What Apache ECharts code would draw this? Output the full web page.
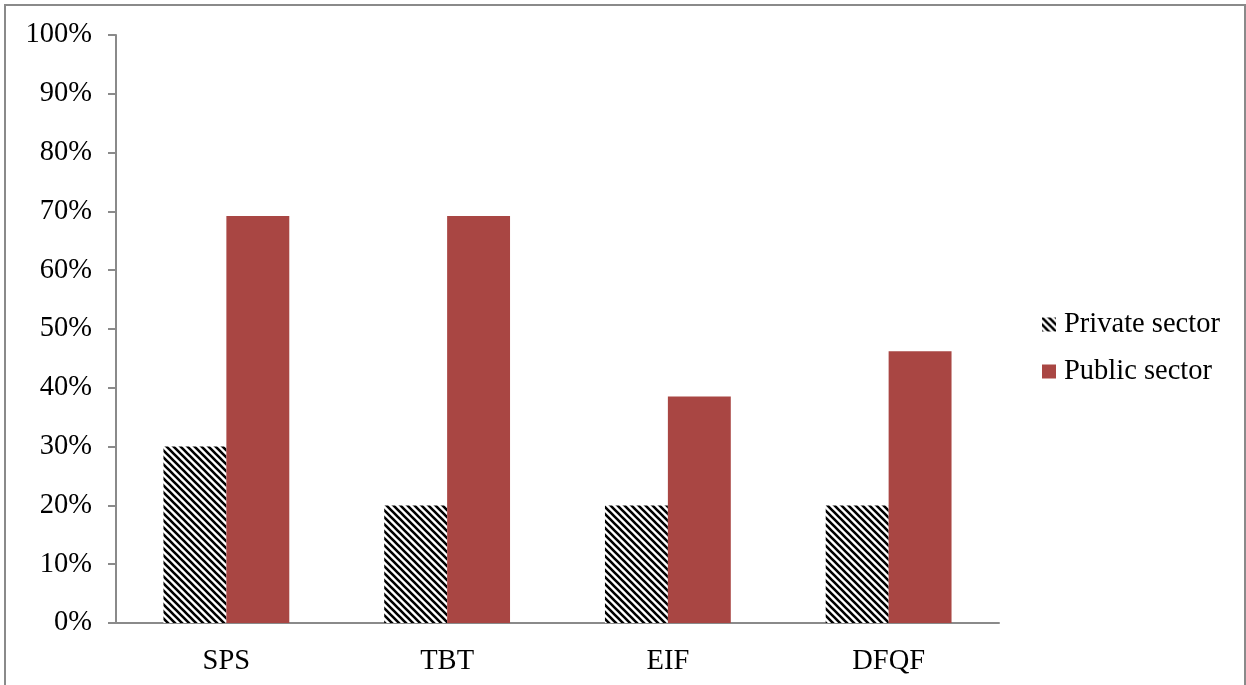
<!DOCTYPE html>
<html>
<head>
<meta charset="utf-8">
<script src="https://cdn.jsdelivr.net/npm/echarts@6/dist/echarts.min.js"></script>
<style>
  html, body { margin: 0; padding: 0; background: #fff; }
  #chart { width: 1246px; height: 685px; }
</style>
</head>
<body>
<div id="chart"></div>
<script>
// Share of respondents by agreement, per sector
const categories = ['SPS', 'TBT', 'EIF', 'DFQF'];
const privateSector = [30, 20, 20, 20];
const publicSector = [69.2, 69.2, 38.5, 46.2];
const yTicks = { min: 0, max: 100, step: 10 };

// Diagonal black/white stripe fill for the private-sector bars
function stripePattern() {
  const size = 7;
  const c = document.createElement('canvas');
  c.width = size; c.height = size;
  const ctx = c.getContext('2d');
  ctx.fillStyle = '#ffffff';
  ctx.fillRect(0, 0, size, size);
  ctx.strokeStyle = '#000000';
  ctx.lineWidth = 2.6;
  ctx.beginPath();
  ctx.moveTo(-2, -2); ctx.lineTo(size + 2, size + 2);
  ctx.moveTo(-2, size - 2); ctx.lineTo(2, size + 2);
  ctx.moveTo(size - 2, -2); ctx.lineTo(size + 2, 2);
  ctx.stroke();
  return { image: c, repeat: 'repeat' };
}

const font = '"Liberation Serif", "Times New Roman", serif';
const axisGray = '#8a8a8a';

const chart = echarts.init(document.getElementById('chart'), null, { renderer: 'canvas' });
chart.setOption({
  animation: false,
  backgroundColor: '#ffffff',
  graphic: [{
    type: 'rect',
    shape: { x: 5, y: 5, width: 1240, height: 720 },
    style: { fill: 'none', stroke: axisGray, lineWidth: 2 },
    silent: true
  }],
  grid: { left: 116, right: 247, top: 35, bottom: 62 },
  legend: {
    orient: 'vertical',
    left: 1037,
    top: 305,
    itemWidth: 14,
    itemHeight: 14,
    itemGap: 18,
    icon: 'rect',
    textStyle: { fontFamily: font, fontSize: 28.5, color: '#000', lineHeight: 28, padding: [0, 0, 0, 3] },
    data: ['Private sector', 'Public sector']
  },
  xAxis: {
    type: 'category',
    data: categories,
    axisLine: { lineStyle: { color: axisGray, width: 2 } },
    axisTick: { length: 8, lineStyle: { color: axisGray, width: 2 } },
    axisLabel: { fontFamily: font, fontSize: 28.5, color: '#000', margin: 24 }
  },
  yAxis: {
    type: 'value',
    min: yTicks.min,
    max: yTicks.max,
    interval: yTicks.step,
    axisLine: { show: true, lineStyle: { color: axisGray, width: 2 } },
    axisTick: { show: true, length: 8, lineStyle: { color: axisGray, width: 2 } },
    splitLine: { show: false },
    axisLabel: { fontFamily: font, fontSize: 28.5, color: '#000', margin: 24, formatter: '{value}%' }
  },
  series: [
    {
      name: 'Private sector',
      type: 'bar',
      data: privateSector,
      barGap: '0%',
      barCategoryGap: '43%',
      itemStyle: { color: stripePattern() }
    },
    {
      name: 'Public sector',
      type: 'bar',
      data: publicSector,
      barGap: '0%',
      barCategoryGap: '43%',
      itemStyle: { color: '#a94643' }
    }
  ]
});
</script>
</body>
</html>
